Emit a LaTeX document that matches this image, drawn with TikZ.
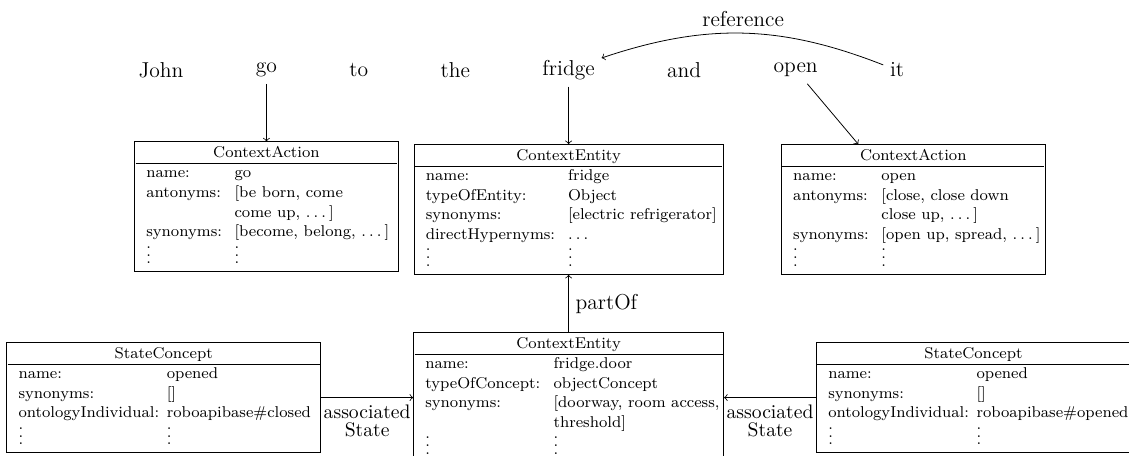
\documentclass[tikz,border=0pt]{standalone}
\usepackage{fontspec}
\usepackage{tikz}
\usetikzlibrary{arrows}
\usetikzlibrary{positioning}

\newcommand{\rowdots}{\raisebox{0pt}[7pt][0pt]{$\vdots$}}
\newcommand{\moredots}{.\kern.2em.\kern.2em.\kern.2em}

\begin{document}
\begin{tikzpicture}[node distance=1.03cm,
    word/.style={node distance=1.05cm, font=\fontsize{11}{13.6}\selectfont},
    concept/.style={draw, inner xsep=0.5pt, inner ysep=1pt, font=\fontsize{8}{10}\selectfont},
    assoc/.style={font=\fontsize{10}{9.2}\selectfont, align=center}]
  \useasboundingbox (-2.885, -6.9) rectangle (17.348, 1.254);

  \node[word] (john) at (0, 0) {John};
  \node[word, right=of john]   (go)     {go};
  \node[word, right=of go]     (to)     {to};
  \node[word, right=of to]     (the)    {the};
  \node[word, right=of the]    (fridge) {fridge};
  \node[word, right=of fridge] (and)    {and};
  \node[word, right=of and]    (open)   {open};
  \node[word, right=of open]   (it)     {it};

  \node[concept, below=of go] (goAction) {
    \begin{tabular}{@{\hspace{5.5pt}}p{45pt}@{}p{83pt}@{}}
      \multicolumn{2}{@{}c@{}}{ContextAction} \\ \hline
      name:     & go \\
      antonyms: & [be born, come \\
                & come up, \moredots] \\
      synonyms: & [become, belong, \moredots] \\[3.8pt]
      \rowdots  & \rowdots
    \end{tabular}
  };
  \node[concept, below=of fridge] (fridgeEntity) {
    \begin{tabular}{@{\hspace{5.5pt}}p{72.5pt}@{}p{78.6pt}@{}}
      \multicolumn{2}{@{}c@{}}{ContextEntity} \\ \hline
      name:             & fridge \\
      typeOfEntity:     & Object \\
      synonyms:         & [electric refrigerator] \\
      directHypernyms:  & \moredots \\[3.8pt]
      \rowdots          & \rowdots
    \end{tabular}
  };
  \node[concept, right=of fridgeEntity] (openAction) {
    \begin{tabular}{@{\hspace{5.5pt}}p{45pt}@{}p{83pt}@{}}
      \multicolumn{2}{@{}c@{}}{ContextAction} \\ \hline
      name:     & open \\
      antonyms: & [close, close down \\
                & close up, \moredots] \\
      synonyms: & [open up, spread, \moredots] \\[3.8pt]
      \rowdots  & \rowdots
    \end{tabular}
  };

  \node[concept, below=of fridgeEntity] (doorEntity) {
    \begin{tabular}{@{\hspace{5.5pt}}p{65.4pt}@{}p{86.2pt}@{}}
      \multicolumn{2}{@{}c@{}}{ContextEntity} \\ \hline
      name:           & fridge.door \\
      typeOfConcept:  & objectConcept \\
      synonyms:       & [doorway, room access, \\
                      & threshold] \\[3.8pt]
      \rowdots        & \rowdots
    \end{tabular}
  };
  \node[concept, left=1.65cm of doorEntity] (closedState) {
    \begin{tabular}{@{\hspace{5.5pt}}p{75.6pt}@{}p{78pt}@{}}
      \multicolumn{2}{@{}c@{}}{StateConcept} \\ \hline
      name:               & opened \\
      synonyms:           & [] \\
      ontologyIndividual: & roboapibase\#closed \\[3.8pt]
      \rowdots            & \rowdots
    \end{tabular}
  };
  \node[concept, right=1.65cm of doorEntity] (openedState) {
    \begin{tabular}{@{\hspace{5.5pt}}p{75.6pt}@{}p{78pt}@{}}
      \multicolumn{2}{@{}c@{}}{StateConcept} \\ \hline
      name:               & opened \\
      synonyms:           & [] \\
      ontologyIndividual: & roboapibase\#opened \\[3.8pt]
      \rowdots            & \rowdots
    \end{tabular}
  };

  \draw[->] (go) -- (goAction);
  \draw[->] (fridge) -- (fridgeEntity);
  \draw[->] (open) -- (openAction);
  \draw[->] (it) to[bend right=20] node[above, word] {reference} (fridge);
  \draw[->] (doorEntity) -- node[right, word] {partOf} (fridgeEntity);
  \draw[->] (closedState) -- node[below, assoc] {associated\\State} (doorEntity);
  \draw[->] (openedState) -- node[below, assoc] {associated\\State} (doorEntity);

\end{tikzpicture}
\end{document}
